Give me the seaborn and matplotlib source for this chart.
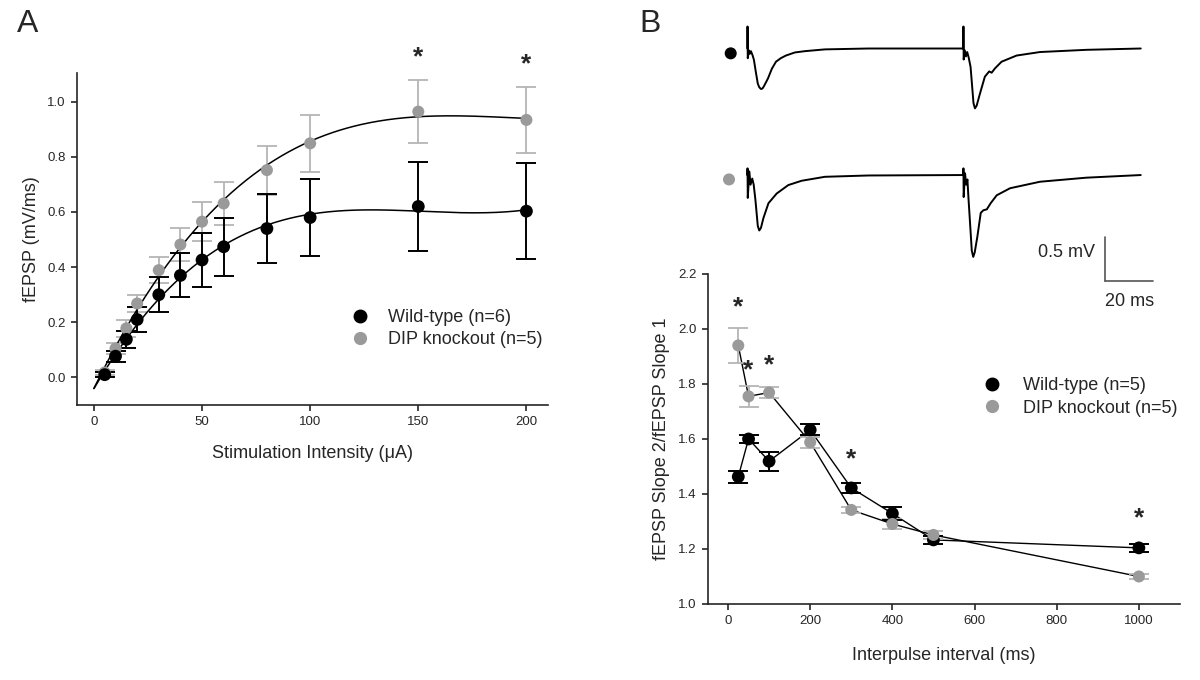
import numpy as np
import matplotlib
matplotlib.use('Agg')
import matplotlib.pyplot as plt
import seaborn as sns
from matplotlib.lines import Line2D

# --- panel A: input/output curve ---
stim_ua = [5, 10, 15, 20, 30, 40, 50, 60, 80, 100, 150, 200]
wt_io = [0.010, 0.077, 0.138, 0.210, 0.300, 0.370, 0.426, 0.474, 0.540, 0.580, 0.620, 0.603]
wt_io_err = [0.010, 0.020, 0.030, 0.045, 0.064, 0.080, 0.098, 0.106, 0.125, 0.141, 0.160, 0.174]
ko_io = [0.018, 0.105, 0.178, 0.268, 0.389, 0.482, 0.565, 0.631, 0.752, 0.849, 0.964, 0.934]
ko_io_err = [0.010, 0.020, 0.030, 0.030, 0.048, 0.060, 0.070, 0.077, 0.089, 0.104, 0.115, 0.121]
io_star_x = [150, 200]
io_star_y = [1.17, 1.145]

# --- panel B: paired-pulse ratio ---
ipi_ms = [25, 50, 100, 200, 300, 400, 500, 1000]
wt_ppf = [1.463, 1.600, 1.519, 1.633, 1.422, 1.329, 1.233, 1.204]
wt_ppf_err = [0.022, 0.015, 0.034, 0.020, 0.018, 0.022, 0.015, 0.015]
ko_ppf = [1.940, 1.755, 1.769, 1.588, 1.342, 1.291, 1.251, 1.100]
ko_ppf_err = [0.064, 0.038, 0.020, 0.020, 0.012, 0.018, 0.015, 0.008]
ppf_star_x = [25, 50, 100, 300, 1000]
ppf_star_y = [2.088, 1.858, 1.877, 1.536, 1.322]

# --- example traces (ms, mV) ---
wt_trace_t = [0.0, 0.05, 0.15, 0.6, 1.0, 1.45, 2.1, 2.7, 3.5, 4.3, 4.9, 5.6, 6.2, 6.8, 8.5, 10.1,
              11.8, 13.8, 15.9, 19.6, 23.8, 32, 50, 89.2,
              89.25, 89.35, 89.8, 90.3, 90.8, 91.4, 92.2, 93.4, 94.0, 94.7, 96.1, 98.1, 99.9,
              100.9, 102.3, 105.0, 111.2, 120.9, 140, 162.5]
wt_trace_mv = [0.0, 0.25, -0.11, -0.02, -0.06, -0.03, -0.074, -0.13, -0.27, -0.40, -0.44, -0.46,
               -0.455, -0.43, -0.34, -0.23, -0.15, -0.11, -0.08, -0.045, -0.03, -0.01, 0.0, 0.0,
               0.25, -0.125, -0.02, -0.09, -0.04, -0.10, -0.21, -0.62, -0.68, -0.65, -0.51, -0.32,
               -0.26, -0.275, -0.225, -0.15, -0.08, -0.04, -0.015, 0.0]
ko_trace_t = [0.0, 0.05, 0.15, 0.8, 1.3, 2.0, 2.6, 3.3, 4.3, 4.9, 5.6, 6.6, 8.7, 12.1, 16.9, 22.4,
              32, 50, 89.2,
              89.25, 89.35, 89.9, 90.4, 90.9, 91.3, 92.7, 93.3, 93.9, 95.0, 96.4, 97.5, 98.9,
              100.5, 103.0, 108.5, 120.9, 140, 162.5]
ko_trace_mv = [0.0, 0.076, -0.26, 0.04, -0.11, -0.04, -0.11, -0.28, -0.58, -0.63, -0.60, -0.49,
               -0.32, -0.21, -0.114, -0.065, -0.02, -0.005, 0.0,
               0.076, -0.25, 0.02, -0.11, -0.05, -0.25, -0.86, -0.93, -0.88, -0.70, -0.43, -0.40,
               -0.39, -0.32, -0.23, -0.15, -0.076, -0.03, 0.0]

black = '#000000'
grey = '#9a9a9a'
grey_err = '#b5b5b5'

sns.set_style('ticks')
plt.rcParams['font.family'] = ['Liberation Sans', 'DejaVu Sans']
plt.rcParams['axes.linewidth'] = 1.2
plt.rcParams['xtick.major.width'] = 1.2
plt.rcParams['ytick.major.width'] = 1.2
plt.rcParams['xtick.major.size'] = 4.5
plt.rcParams['ytick.major.size'] = 4.5
plt.rcParams['xtick.labelsize'] = 9.5
plt.rcParams['ytick.labelsize'] = 9.5

fig = plt.figure(figsize=(12, 6.8), dpi=100)

# ---------------- Panel A ----------------
axA = fig.add_axes([0.0642, 0.4044, 0.3925, 0.4882])
axA.errorbar(stim_ua, ko_io, yerr=ko_io_err, fmt='none', ecolor=grey_err, elinewidth=1.3,
             capsize=7, capthick=1.3, zorder=1)
axA.errorbar(stim_ua, wt_io, yerr=wt_io_err, fmt='none', ecolor=black, elinewidth=1.4,
             capsize=7, capthick=1.4, zorder=2)

# cubic fit through each group's means
xfit = np.linspace(0, 200, 300)
for vals in (wt_io, ko_io):
    coef = np.polyfit(stim_ua, vals, 3)
    sns.lineplot(x=xfit, y=np.polyval(coef, xfit), ax=axA, color=black, lw=1.1, zorder=3)

sns.scatterplot(x=stim_ua, y=ko_io, ax=axA, color=grey, s=75, edgecolor='none', zorder=4)
sns.scatterplot(x=stim_ua, y=wt_io, ax=axA, color=black, s=85, edgecolor='none', zorder=5)

for x, y in zip(io_star_x, io_star_y):
    axA.text(x, y - 0.01, '*', ha='center', va='center', fontsize=19, fontweight='bold', clip_on=False)

axA.set_xlim(-7.8, 210)
axA.set_ylim(-0.1, 1.104)
axA.set_xticks([0, 50, 100, 150, 200])
axA.set_yticks([0.0, 0.2, 0.4, 0.6, 0.8, 1.0])
axA.set_yticklabels(['0.0', '0.2', '0.4', '0.6', '0.8', '1.0'])
axA.set_xlabel('Stimulation Intensity (\u03bcA)', fontsize=13, labelpad=12)
axA.set_ylabel('fEPSP (mV/ms)', fontsize=13, labelpad=5)
sns.despine(ax=axA)

hA = [Line2D([], [], ls='none', marker='o', color=black, markersize=9),
      Line2D([], [], ls='none', marker='o', color=grey, markersize=8.5)]
axA.legend(hA, ['Wild-type (n=6)', 'DIP knockout (n=5)'], frameon=False, fontsize=13,
           loc='center left', bbox_to_anchor=(0.528, 0.23), handletextpad=0.55, labelspacing=0.3)

# ---------------- Panel B ----------------
axB = fig.add_axes([0.59, 0.1118, 0.3933, 0.4853])
sns.lineplot(x=ipi_ms, y=wt_ppf, ax=axB, color=black, lw=1.0, zorder=1)
sns.lineplot(x=ipi_ms, y=ko_ppf, ax=axB, color=black, lw=1.0, zorder=1)
axB.errorbar(ipi_ms, ko_ppf, yerr=ko_ppf_err, fmt='none', ecolor=grey_err, elinewidth=1.3,
             capsize=7, capthick=1.3, zorder=2)
axB.errorbar(ipi_ms, wt_ppf, yerr=wt_ppf_err, fmt='none', ecolor=black, elinewidth=1.4,
             capsize=7, capthick=1.4, zorder=3)
sns.scatterplot(x=ipi_ms, y=wt_ppf, ax=axB, color=black, s=85, edgecolor='none', zorder=4)
sns.scatterplot(x=ipi_ms, y=ko_ppf, ax=axB, color=grey, s=75, edgecolor='none', zorder=5)

for x, y in zip(ppf_star_x, ppf_star_y):
    axB.text(x, y - 0.01, '*', ha='center', va='center', fontsize=19, fontweight='bold', clip_on=False)

axB.set_xlim(-48.7, 1100)
axB.set_ylim(1.0, 2.2)
axB.set_xticks([0, 200, 400, 600, 800, 1000])
axB.set_yticks(np.arange(1.0, 2.21, 0.2))
axB.set_yticklabels(['1.0', '1.2', '1.4', '1.6', '1.8', '2.0', '2.2'])
axB.set_xlabel('Interpulse interval (ms)', fontsize=13, labelpad=14)
axB.set_ylabel('fEPSP Slope 2/fEPSP Slope 1', fontsize=13, labelpad=6)
sns.despine(ax=axB)

hB = [Line2D([], [], ls='none', marker='o', color=black, markersize=9),
      Line2D([], [], ls='none', marker='o', color=grey, markersize=8.5)]
axB.legend(hB, ['Wild-type (n=5)', 'DIP knockout (n=5)'], frameon=False, fontsize=13,
           loc='center left', bbox_to_anchor=(0.530, 0.627), handletextpad=0.7, labelspacing=0.3)

# ---------------- Traces ----------------
axT1 = fig.add_axes([0.5833, 0.8088, 0.4, 0.1765])
sns.lineplot(x=wt_trace_t, y=wt_trace_mv, ax=axT1, color=black, lw=1.4, sort=False, estimator=None)
axT1.scatter([-6.9], [-0.055], s=75, color=black, edgecolor='none')
axT1.set_xlim(-19.6, 178.7)
axT1.set_ylim(-0.926, 0.4375)
axT1.axis('off')

axT2 = fig.add_axes([0.5833, 0.5588, 0.4, 0.2353])
sns.lineplot(x=ko_trace_t, y=ko_trace_mv, ax=axT2, color=black, lw=1.4, sort=False, estimator=None)
axT2.scatter([-7.6], [-0.05], s=75, color=grey, edgecolor='none')
axT2.set_xlim(-19.6, 178.7)
axT2.set_ylim(-1.42, 0.398)
axT2.axis('off')
# scale bar: 20 ms, 0.5 mV
axT2.plot([147.7, 147.7], [-0.70, -1.20], color='#555555', lw=1.2, clip_on=False)
axT2.plot([147.7, 167.7], [-1.20, -1.20], color='#555555', lw=1.2, clip_on=False)
axT2.text(143.5, -0.88, '0.5 mV', ha='right', va='center', fontsize=13)
axT2.text(157.7, -1.44, '20 ms', ha='center', va='center', fontsize=13, clip_on=False)

fig.text(0.014, 0.965, 'A', fontsize=23, va='center', ha='left')
fig.text(0.533, 0.965, 'B', fontsize=23, va='center', ha='left')

fig.savefig('out.png', dpi=100)
